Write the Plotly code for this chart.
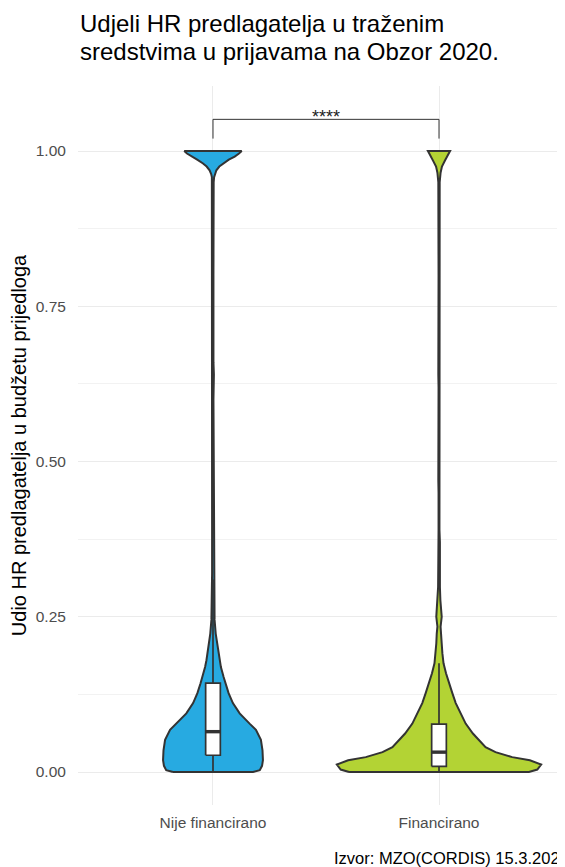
import plotly.graph_objects as go

# ---------------- data ----------------
categories = ["Nije financirano", "Financirano"]
cat_pos = [1, 2]
fill_colors = ["#27AAE1", "#B3D334"]

# violin density profiles: share value (y) and half-width (category units)
blue_y = [0.000, 0.003, 0.010, 0.019, 0.035, 0.052, 0.068, 0.078, 0.0945, 0.111,
          0.127, 0.143, 0.153, 0.169, 0.180, 0.207, 0.223, 0.245, 0.270, 0.320,
          0.400, 0.470, 0.520, 0.600, 0.640, 0.660, 0.800, 0.900, 0.950, 0.958,
          0.963, 0.969, 0.975, 0.980, 0.986, 0.991, 0.996, 1.000]
blue_w = [0.177, 0.207, 0.217, 0.221, 0.219, 0.212, 0.190, 0.162, 0.118, 0.088,
          0.069, 0.055, 0.047, 0.035, 0.029, 0.018, 0.012, 0.007, 0.005, 0.004,
          0.004, 0.004, 0.003, 0.002, 0.004, 0.002, 0.002, 0.002, 0.003, 0.005,
          0.008, 0.015, 0.028, 0.044, 0.070, 0.096, 0.115, 0.127]

green_y = [0.000, 0.004, 0.012, 0.019, 0.024, 0.032, 0.040, 0.052, 0.062, 0.078,
           0.094, 0.111, 0.127, 0.143, 0.159, 0.175, 0.191, 0.207, 0.223, 0.234,
           0.250, 0.261, 0.277, 0.298, 0.340, 0.370, 0.390, 0.450, 0.470, 0.620,
           0.640, 0.800, 0.950, 0.965, 0.975, 0.985, 0.993, 1.000]
green_w = [0.398, 0.435, 0.452, 0.402, 0.324, 0.250, 0.206, 0.177, 0.150, 0.118,
           0.096, 0.074, 0.059, 0.044, 0.031, 0.020, 0.015, 0.012, 0.010, 0.007,
           0.012, 0.010, 0.006, 0.004, 0.003, 0.004, 0.002, 0.002, 0.003, 0.002,
           0.003, 0.002, 0.003, 0.007, 0.013, 0.027, 0.040, 0.049]

# box plot statistics
box_q1 = [0.027, 0.009]
box_median = [0.065, 0.032]
box_q3 = [0.143, 0.077]
box_low = [0.0, 0.0]
box_high = [0.31, 0.175]

# significance bracket
sig_label = "****"
sig_level = 1.051
sig_tip = 1.020

y_ticks = [0.0, 0.25, 0.5, 0.75, 1.0]

title_lines = ["Udjeli HR predlagatelja u traženim",
               "sredstvima u prijavama na Obzor 2020."]
y_title = "Udio HR predlagatelja u budžetu prijedloga"
caption = "Izvor: MZO(CORDIS) 15.3.202"

# ---------------- styling ----------------
OUTLINE = "#333333"
FONT = "Liberation Sans, Arial, sans-serif"
BOX_WIDTH = 0.065
W, H = 557, 859
ML, MT, MB = 70, 78, 62
PLOT_H = H - MT - MB
PLOT_W = W - ML

fig = go.Figure()

# violins
profiles = [(blue_y, blue_w), (green_y, green_w)]
for pos, (ys, ws), col in zip(cat_pos, profiles, fill_colors):
    xs = [pos - w for w in ws] + [pos + w for w in reversed(ws)] + [pos - ws[0]]
    yy = list(ys) + list(reversed(ys)) + [ys[0]]
    fig.add_trace(go.Scatter(
        x=xs, y=yy, mode="lines", fill="toself", fillcolor=col,
        line=dict(color=OUTLINE, width=2.0), hoverinfo="skip", showlegend=False))

# boxplots (drawn on top of the violins)
half = BOX_WIDTH / 2
for i, pos in enumerate(cat_pos):
    # whiskers
    fig.add_trace(go.Scatter(
        x=[pos, pos, None, pos, pos],
        y=[box_low[i], box_q1[i], None, box_q3[i], box_high[i]],
        mode="lines", line=dict(color=OUTLINE, width=1.7),
        showlegend=False, hoverinfo="skip"))
    # box
    fig.add_trace(go.Scatter(
        x=[pos - half, pos + half, pos + half, pos - half, pos - half],
        y=[box_q1[i], box_q1[i], box_q3[i], box_q3[i], box_q1[i]],
        mode="lines", fill="toself", fillcolor="white",
        line=dict(color=OUTLINE, width=1.7), showlegend=False, hoverinfo="skip"))
    # median
    fig.add_trace(go.Scatter(
        x=[pos - half, pos + half],
        y=[box_median[i], box_median[i]], mode="lines",
        line=dict(color=OUTLINE, width=3.4), showlegend=False, hoverinfo="skip"))

# significance bracket
fig.add_trace(go.Scatter(
    x=[cat_pos[0], cat_pos[0], cat_pos[1], cat_pos[1]],
    y=[sig_tip, sig_level, sig_level, sig_tip], mode="lines",
    line=dict(color=OUTLINE, width=1), showlegend=False, hoverinfo="skip"))
fig.add_annotation(x=(cat_pos[0] + cat_pos[1]) / 2, y=sig_level, text=sig_label,
                   showarrow=False, yanchor="bottom", yshift=-10,
                   font=dict(size=18, color="#222222", family=FONT))

# title (two lines, placed in pixel terms above the panel)
for k, line in enumerate(title_lines):
    center_px = 16 + 27.0 * k
    fig.add_annotation(text=line, xref="paper", yref="paper",
                       x=0, y=(H - MB - center_px) / PLOT_H,
                       xanchor="left", yanchor="middle", showarrow=False,
                       font=dict(size=24, color="black", family=FONT))

fig.add_annotation(text=caption, xref="paper", yref="paper",
                   x=(324 - ML) / PLOT_W, y=-(850 - (H - MB)) / PLOT_H,
                   xanchor="left", yanchor="middle", showarrow=False,
                   font=dict(size=16.5, color="black", family=FONT))

fig.update_layout(
    width=W, height=H,
    margin=dict(l=ML, r=0, t=MT, b=MB),
    paper_bgcolor="white", plot_bgcolor="white",
    font=dict(family=FONT),
    xaxis=dict(range=[0.4027, 2.5575], tickvals=cat_pos, ticktext=categories,
               showgrid=True, gridcolor="#EBEBEB", gridwidth=1.3,
               zeroline=False, showline=False,
               ticks="outside", ticklen=3, tickcolor="rgba(0,0,0,0)",
               tickfont=dict(size=15.5, color="#4D4D4D", family=FONT)),
    yaxis=dict(range=[-0.0531, 1.1047], tickvals=y_ticks, tickformat=".2f",
               showgrid=True, gridcolor="#EBEBEB", gridwidth=1.3,
               zeroline=False, showline=False,
               ticks="outside", ticklen=8, tickcolor="rgba(0,0,0,0)",
               tickfont=dict(size=15.5, color="#4D4D4D", family=FONT),
               minor=dict(dtick=0.125, tick0=0, showgrid=True,
                          gridcolor="#F2F2F2", gridwidth=0.8, ticks=""),
               title=dict(text=y_title, standoff=11,
                          font=dict(size=20, color="black", family=FONT))),
)

fig.write_html("out.html")
